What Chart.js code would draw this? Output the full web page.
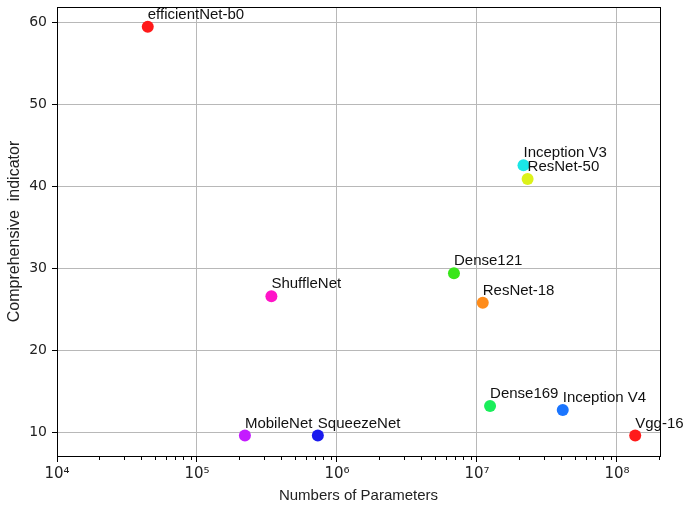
<!DOCTYPE html>
<html>
<head>
<meta charset="utf-8">
<script src="https://cdn.jsdelivr.net/npm/chart.js@4"></script>
<style>
  html, body { margin: 0; padding: 0; background: #fff; }
  #wrap { width: 688px; height: 509px; }
</style>
</head>
<body>
<div id="wrap"><canvas id="myChart" width="688" height="509"></canvas></div>
<script>
const models = ['efficientNet-b0', 'ShuffleNet', 'MobileNet', 'SqueezeNet', 'Dense121', 'ResNet-18',
                'Inception V3', 'ResNet-50', 'Dense169', 'Inception V4', 'Vgg-16'];
const params = [4.45e4, 3.4e5, 2.2e5, 7.3e5, 6.85e6, 1.1e7, 2.15e7, 2.3e7, 1.24e7, 4.1e7, 1.35e8];
const scores = [59.5, 26.6, 9.6, 9.6, 29.4, 25.8, 42.6, 40.9, 13.2, 12.7, 9.6];
const colors = ['#ff1a1a', '#ff14c8', '#c41aff', '#1a1aee', '#38e61a', '#ff8c1a',
                '#1ae6e6', '#dcf21a', '#1aee5a', '#1a75ff', '#ff1a1a'];
const xDecades = [1e4, 1e5, 1e6, 1e7, 1e8];
const yTicks = [10, 20, 30, 40, 50, 60];

const sup = { '4': '⁴', '5': '⁵', '6': '⁶', '7': '⁷', '8': '⁸' };

// frame round the plot + minor log ticks + point names
const extras = {
    id: 'extras',
    afterDraw(chart) {
        const ctx = chart.ctx;
        const a = chart.chartArea;
        const xs = chart.scales.x;
        ctx.save();
        ctx.strokeStyle = '#000';
        ctx.lineWidth = 1;
        for (let n = 4; n <= 8; n++) {
            for (let k = 2; k <= 9; k++) {
                const v = k * Math.pow(10, n);
                if (v > xs.max) continue;
                const px = Math.round(xs.getPixelForValue(v)) + 0.5;
                ctx.beginPath();
                ctx.moveTo(px, a.bottom);
                ctx.lineTo(px, a.bottom + 4);
                ctx.stroke();
            }
        }
        ctx.strokeRect(Math.round(a.left) + 0.5, Math.round(a.top) + 0.5,
                       Math.round(a.right - a.left), Math.round(a.bottom - a.top));

        const meta = chart.getDatasetMeta(0);
        ctx.fillStyle = '#111';
        ctx.font = '15px "Liberation Sans", Arial, sans-serif';
        ctx.textAlign = 'left';
        ctx.textBaseline = 'alphabetic';
        meta.data.forEach((pt, i) => {
            ctx.fillText(models[i], pt.x, pt.y - 8);
        });
        ctx.restore();
    }
};

const ctx = document.getElementById('myChart').getContext('2d');
new Chart(ctx, {
    type: 'scatter',
    data: {
        datasets: [{
            data: params.map((p, i) => ({ x: p, y: scores[i] })),
            pointBackgroundColor: colors,
            pointBorderWidth: 0,
            pointRadius: 6,
            pointHoverRadius: 6
        }]
    },
    options: {
        responsive: false,
        animation: false,
        events: [],
        layout: { padding: { left: 0, top: 7, right: 28, bottom: 0 } },
        plugins: { legend: { display: false }, tooltip: { enabled: false } },
        scales: {
            x: {
                type: 'logarithmic',
                min: 1e4,
                max: 2.03e8,
                afterBuildTicks: (s) => { s.ticks = xDecades.map(v => ({ value: v })); },
                afterFit: (s) => { s.height = 53; s.paddingLeft = 0; s.paddingRight = 0; },
                border: { color: '#000' },
                grid: { color: '#b8b8b8', lineWidth: 1, tickLength: 6, tickColor: '#000' },
                ticks: {
                    color: '#222',
                    padding: 3,
                    maxRotation: 0,
                    autoSkip: false,
                    font: { family: '"DejaVu Sans", sans-serif', size: 15 },
                    callback: (v) => '10' + sup[String(Math.round(Math.log10(v)))]
                },
                title: {
                    display: true,
                    text: 'Numbers of Parameters',
                    color: '#222',
                    font: { family: '"Liberation Sans", Arial, sans-serif', size: 15 },
                    padding: { top: 2, bottom: 4 }
                }
            },
            y: {
                min: 7.1,
                max: 61.9,
                afterBuildTicks: (s) => { s.ticks = yTicks.map(v => ({ value: v })); },
                afterFit: (s) => { s.width = 57; s.paddingTop = 0; s.paddingBottom = 0; },
                border: { color: '#000' },
                grid: { color: '#b8b8b8', lineWidth: 1, tickLength: 5, tickColor: '#000' },
                ticks: {
                    color: '#222',
                    padding: 5,
                    font: { family: '"DejaVu Sans", sans-serif', size: 14 }
                },
                title: {
                    display: true,
                    text: 'Comprehensive  indicator',
                    color: '#222',
                    font: { family: '"Liberation Sans", Arial, sans-serif', size: 16 },
                    padding: { top: 5, bottom: 2 }
                }
            }
        }
    },
    plugins: [extras]
});
</script>
</body>
</html>
